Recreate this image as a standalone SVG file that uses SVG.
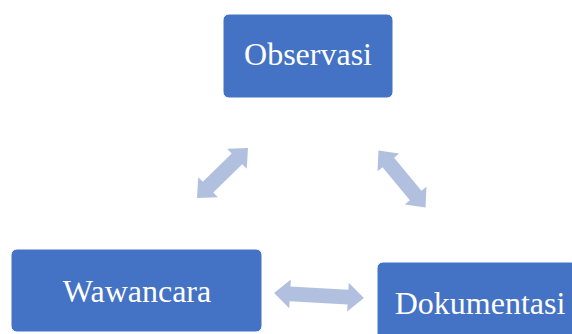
<svg xmlns="http://www.w3.org/2000/svg" width="572" height="334" viewBox="0 0 572 334">
<style>
.box{fill:#4472C4;stroke:#ffffff;stroke-width:1}
.lbl{font-family:"Liberation Serif","Times New Roman",serif;font-size:32px;fill:#ffffff;text-anchor:middle}
.arr{fill:#B2C0E0}
</style>
<rect width="572" height="334" fill="#ffffff"/>
<g id="connectors">
<path class="arr" transform="translate(222.5,173) rotate(-44.4)" d="M-35.7,0 L-20.2,-14 L-20.2,-7.5 L20.2,-7.5 L20.2,-14 L35.7,0 L20.2,14 L20.2,7.5 L-20.2,7.5 L-20.2,14 Z"/>
<path class="arr" transform="translate(402,179) rotate(50.5)" d="M-37,0 L-21.5,-14 L-21.5,-7.5 L21.5,-7.5 L21.5,-14 L37,0 L21.5,14 L21.5,7.5 L-21.5,7.5 L-21.5,14 Z"/>
<path class="arr" transform="translate(319,295.5) rotate(3.2)" d="M-45,0 L-29,-14.5 L-29,-7.5 L29,-7.5 L29,-14.5 L45,0 L29,14.5 L29,7.5 L-29,7.5 L-29,14.5 Z"/>
</g>
<g id="observasi">
<rect class="box" x="223" y="14" width="170" height="84" rx="6"/>
<text class="lbl" x="308" y="65">Observasi</text>
</g>
<g id="wawancara">
<rect class="box" x="11" y="249" width="251" height="83" rx="6"/>
<text class="lbl" x="137" y="302">Wawancara</text>
</g>
<g id="dokumentasi">
<rect class="box" x="377" y="262" width="200" height="80" rx="6"/>
<text class="lbl" x="480" y="314">Dokumentasi</text>
</g>
</svg>
